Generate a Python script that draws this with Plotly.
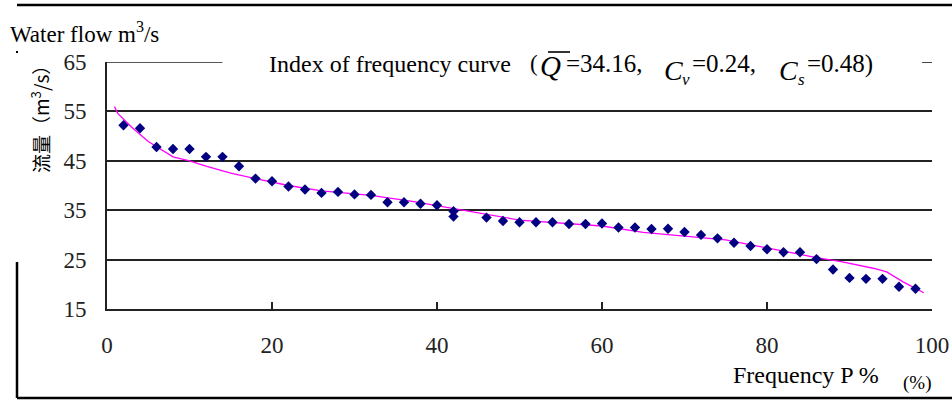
import plotly.graph_objects as go

# ---- data ----
P_obs = [2, 4, 6, 8, 10, 12, 14, 16, 18, 20, 22, 24, 26, 28, 30, 32, 34, 36, 38, 40, 42, 42,
         46, 48, 50, 52, 54, 56, 58, 60, 62, 64, 66, 68, 70, 72, 74, 76, 78, 80, 82, 84, 86,
         88, 90, 92, 94, 96, 98]
Q_obs = [52.2, 51.6, 47.8, 47.4, 47.4, 45.8, 45.8, 43.9, 41.4, 40.85, 39.8, 39.2, 38.5, 38.7,
         38.2, 38.1, 36.6, 36.6, 36.3, 36.0, 34.8, 33.7, 33.5, 32.8, 32.55, 32.55, 32.55, 32.2,
         32.2, 32.3, 31.5, 31.5, 31.2, 31.25, 30.6, 30.0, 29.3, 28.4, 27.75, 27.1, 26.5, 26.5,
         25.1, 23.0, 21.3, 21.1, 21.1, 19.5, 19.1]

P_fit = [0.9, 1.3, 3, 5, 8, 10, 12, 15, 18, 22, 26, 32, 37, 43, 50, 60, 65, 75, 80, 86, 89,
         93, 94.5, 96.5, 99]
Q_fit = [56.0, 54.6, 51.8, 48.9, 45.8, 45.0, 43.9, 42.5, 41.4, 40.0, 38.9, 38.0, 36.8, 35.0,
         33.0, 31.8, 30.5, 29.0, 27.4, 25.4, 24.6, 23.2, 22.5, 20.5, 18.3]

x_ticks = [0, 20, 40, 60, 80, 100]
y_ticks = [15, 25, 35, 45, 55, 65]

# ---- layout geometry ----
W, H = 952, 401
L, R, T, B = 107, 20, 62, 92
PW, PH = W - L - R, H - T - B


def px(x):
    return (x - L) / PW


def py(y):
    return (H - B - y) / PH


SERIF = "Liberation Serif"

fig = go.Figure()
fig.add_trace(go.Scatter(x=P_fit, y=Q_fit, mode="lines",
                         line=dict(color="#FF00FF", width=1.3), showlegend=False))
fig.add_trace(go.Scatter(x=P_obs, y=Q_obs, mode="markers",
                         marker=dict(symbol="diamond", size=8, color="#000080",
                                     line=dict(width=0)), showlegend=False))

fig.update_layout(
    width=W, height=H, autosize=False,
    margin=dict(l=L, r=R, t=T, b=B, pad=0, autoexpand=False),
    paper_bgcolor="white", plot_bgcolor="white",
    font=dict(family=SERIF, size=23, color="black"),
    xaxis=dict(range=[0, 100], tickvals=x_ticks, showgrid=False, zeroline=False,
               showline=True, linecolor="#222", linewidth=2, automargin=False,
               ticks="inside", ticklen=7, tickwidth=1.5, tickcolor="#222",
               ticklabelstandoff=14, tickfont=dict(family=SERIF, size=23, color="#222")),
    yaxis=dict(range=[15, 65], tickvals=y_ticks, showgrid=True, gridcolor="#222",
               gridwidth=1.7, zeroline=False, showline=True, linecolor="#222",
               linewidth=2, ticks="", ticklabelstandoff=14, automargin=False,
               tickfont=dict(family=SERIF, size=23, color="#222")),
)

shapes = [
    # white box hiding the 65 gridline behind the title text
    dict(type="rect", xref="paper", yref="paper", x0=px(223), x1=px(922), y0=py(68), y1=py(56),
         fillcolor="white", line=dict(width=0), layer="above"),
    # visible parts of the 65 gridline
    dict(type="line", xref="x", yref="y", x0=0, x1=14, y0=65, y1=65,
         line=dict(color="#222", width=1.7)),
    dict(type="line", xref="x", yref="y", x0=98.8, x1=100, y0=65, y1=65,
         line=dict(color="#222", width=1.7)),
    # outer frame pieces
    dict(type="line", xref="paper", yref="paper", x0=px(17), x1=px(952), y0=py(5), y1=py(5),
         line=dict(color="black", width=2.5)),
    dict(type="line", xref="paper", yref="paper", x0=px(17), x1=px(17), y0=py(262), y1=py(398),
         line=dict(color="black", width=2.5)),
    dict(type="line", xref="paper", yref="paper", x0=px(17), x1=px(952), y0=py(398), y1=py(398),
         line=dict(color="black", width=2.5)),
    dict(type="line", xref="paper", yref="paper", x0=px(17), x1=px(17), y0=py(51), y1=py(53),
         line=dict(color="black", width=2)),
    # overbar of Q
    dict(type="line", xref="paper", yref="paper", x0=px(548), x1=px(570), y0=py(52), y1=py(52),
         line=dict(color="black", width=1.6)),
]
fig.update_layout(shapes=shapes)


def ann(text, x, y, size=23, xanchor="left", family=SERIF, **kw):
    fig.add_annotation(text=text, xref="paper", yref="paper", x=px(x), y=py(y),
                       xanchor=xanchor, yanchor="middle", showarrow=False, borderpad=0,
                       font=dict(family=family, size=size, color="black"), **kw)


ann("Water flow m<sup>3</sup>/s", 9, 33)
ann("Index of frequency curve", 268, 63.5, size=24)
ann("(", 529, 63.5, size=23)
ann("<i>Q</i>", 539, 66, size=29)
ann("=34.16,", 565, 63.5, size=25)
ann("<i>C</i>", 663, 70, size=28)
ann("<i>v</i>", 681, 79, size=17)
ann("=0.24,", 691, 63.5, size=25)
ann("<i>C</i>", 778, 70, size=28)
ann("<i>s</i>", 797, 79, size=17)
ann("=0.48)", 806, 63.5, size=25)
ann("Frequency P %", 806, 375, size=24, xanchor="center")
ann("(%)", 917, 383, size=19, xanchor="center")
fig.add_annotation(text="流量（m<sup>3</sup>/s）", xref="paper", yref="paper", x=px(40), y=py(115),
                   xanchor="center", yanchor="middle", showarrow=False, textangle=-90,
                   borderpad=0,
                   font=dict(family="Noto Sans CJK SC", size=19, color="black"))

fig.write_html("out.html", config={"displayModeBar": False},
               post_script="document.body.style.margin='0px';")
